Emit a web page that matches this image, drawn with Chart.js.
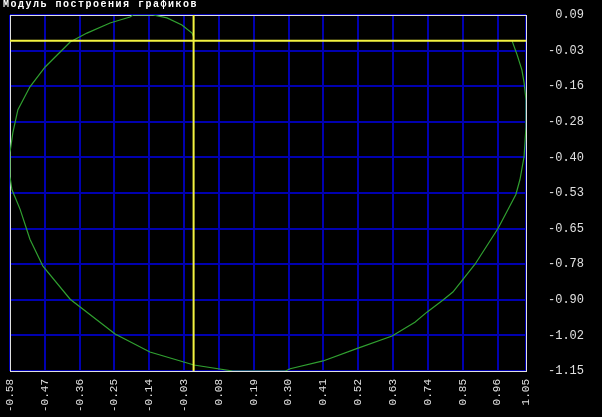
<!DOCTYPE html>
<html>
<head>
<meta charset="utf-8">
<script src="https://cdn.jsdelivr.net/npm/chart.js@4/dist/chart.umd.min.js"></script>
<style>
  html,body{margin:0;padding:0;background:#000;}
  #wrap{position:relative;width:602px;height:417px;}
  #title{position:absolute;left:3px;top:-1px;color:#fff;font:bold 10px 'Liberation Mono',monospace;letter-spacing:1.5px;line-height:12px;white-space:nowrap;}
  canvas{display:block;}
</style>
</head>
<body>
<div id="wrap">
  <div id="title">Модуль построения графиков</div>
  <canvas id="plot" width="602" height="417"></canvas>
</div>
<script>
// curve points
const curveX = [1.006, 1.022, 1.037, 1.044, 1.05, 1.05, 1.044, 1.031, 1.018, 0.962, 0.889, 0.819, 0.788, 0.737, 0.699, 0.627, 0.513, 0.409, 0.305, 0.29, 0.124, 0.001, -0.138, -0.248, -0.390, -0.476, -0.517, -0.548, -0.574, -0.58, -0.58, -0.571, -0.555, -0.517, -0.469, -0.390, -0.337, -0.264, -0.201, -0.191, -0.128, -0.084, -0.037, -0.005, 0.0];
const curveY = [0.0, -0.049, -0.101, -0.146, -0.205, -0.299, -0.403, -0.483, -0.535, -0.653, -0.778, -0.875, -0.903, -0.945, -0.980, -1.028, -1.073, -1.115, -1.142, -1.15, -1.15, -1.129, -1.084, -1.021, -0.900, -0.785, -0.691, -0.587, -0.518, -0.473, -0.389, -0.320, -0.240, -0.160, -0.091, -0.004, 0.027, 0.062, 0.083, 0.09, 0.09, 0.080, 0.055, 0.027, 0.014];

const xTicks = [-0.58, -0.47, -0.36, -0.25, -0.14, -0.03, 0.08, 0.19, 0.30, 0.41, 0.52, 0.63, 0.74, 0.85, 0.96, 1.05];
const xLabels = ['-0.58', '-0.47', '-0.36', '-0.25', '-0.14', '-0.03', '0.08', '0.19', '0.30', '0.41', '0.52', '0.63', '0.74', '0.85', '0.96', '1.05'];
const yTicks = [0.09, -0.034, -0.158, -0.282, -0.406, -0.53, -0.654, -0.778, -0.902, -1.026, -1.15];
const yLabels = ['0.09', '-0.03', '-0.16', '-0.28', '-0.40', '-0.53', '-0.65', '-0.78', '-0.90', '-1.02', '-1.15'];

const xMin = -0.58, xMax = 1.05, yMin = -1.15, yMax = 0.09;

const curve = curveX.map((x,i)=>({x:x, y:curveY[i]}));
const hAxis = [{x:xMin, y:0}, {x:xMax, y:0}];
const vAxis = [{x:0, y:yMin}, {x:0, y:yMax}];

// white box round the plot area
const frame = {
  id:'frame',
  beforeDatasetsDraw(chart){
    const a = chart.chartArea, ctx = chart.ctx;
    ctx.save();
    ctx.strokeStyle = '#e0e0e0';
    ctx.lineWidth = 1;
    ctx.strokeRect(Math.round(a.left)+0.5, Math.round(a.top)+0.5, Math.round(a.right-a.left), Math.round(a.bottom-a.top));
    ctx.restore();
  }
};

Chart.defaults.font.family = "'Liberation Mono', monospace";
Chart.defaults.color = '#e0e0e0';

new Chart(document.getElementById('plot'), {
  type:'scatter',
  data:{ datasets:[
    { data:curve, showLine:true, borderColor:'#30a030', borderWidth:1.2, pointRadius:0, tension:0, order:2 },
    { data:hAxis, showLine:true, borderColor:'#f4f440', borderWidth:2, pointRadius:0, order:1 },
    { data:vAxis, showLine:true, borderColor:'#f4f440', borderWidth:2, pointRadius:0, order:1 }
  ]},
  options:{
    responsive:false,
    animation:false,
    events:[],
    layout:{ padding:{ top:15, left:10, right:18, bottom:0 } },
    plugins:{ legend:{display:false}, tooltip:{enabled:false}, title:{display:false} },
    scales:{
      x:{
        type:'linear', min:xMin, max:xMax,
        afterBuildTicks:(s)=>{ s.ticks = xTicks.map(v=>({value:v})); },
        afterFit:(s)=>{ s.height = 46; },
        grid:{ color:'#0000b0', lineWidth:2, drawTicks:false },
        border:{ display:false },
        ticks:{ autoSkip:false, minRotation:90, maxRotation:90, padding:8, font:{size:11},
          callback:(v,i)=>xLabels[i] }
      },
      y:{
        type:'linear', position:'right', min:yMin, max:yMax,
        afterBuildTicks:(s)=>{ s.ticks = yTicks.map(v=>({value:v})); },
        grid:{ color:'#0000b0', lineWidth:2, drawTicks:true, tickLength:8, tickColor:'rgba(0,0,0,0)' },
        border:{ display:false },
        ticks:{ crossAlign:'far', padding:7, font:{size:12},
          callback:(v,i)=>yLabels[i] }
      }
    }
  },
  plugins:[frame]
});
</script>
</body>
</html>
